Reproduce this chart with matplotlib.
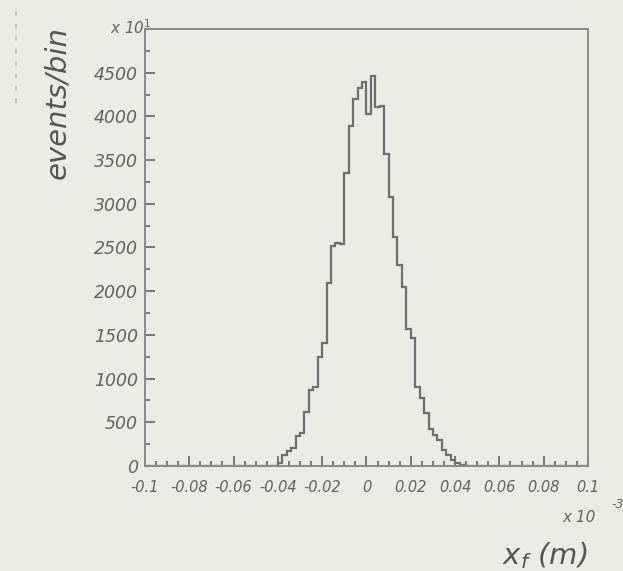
import numpy as np
import matplotlib
matplotlib.use("Agg")
import matplotlib.pyplot as plt
from matplotlib.ticker import MultipleLocator

# histogram of x_f, bins of 0.002 (x 10^-3 m)
bin_width = 0.002
first_edge = -0.040
counts = [34, 126, 170, 205, 340, 380, 620, 868, 900, 1250,
          1404, 2089, 2520, 2550, 2540, 3350, 3890, 4200, 4330, 4390,
          4030, 4460, 4110, 4121, 3570, 3074, 2618, 2300, 2047, 1572,
          1461, 905, 780, 605, 420, 354, 300, 183, 126, 68,
          31, 10]

xticks = [-0.1, -0.08, -0.06, -0.04, -0.02, 0, 0.02, 0.04, 0.06, 0.08, 0.1]
xtick_labels = ["-0.1", "-0.08", "-0.06", "-0.04", "-0.02", "0",
                "0.02", "0.04", "0.06", "0.08", "0.1"]
yticks = [0, 500, 1000, 1500, 2000, 2500, 3000, 3500, 4000, 4500]

bg = "#ebebe6"
ink = "#6e6e6e"
txt = "#626262"

edges = first_edge + bin_width * np.arange(len(counts) + 1)
# pad with empty bins so the line runs along the full range like ROOT
full_edges = np.concatenate(([-0.1], edges, [0.1]))
full_counts = np.concatenate(([0], counts, [0]))

fig = plt.figure(figsize=(6.23, 5.71), dpi=100, facecolor=bg)
ax = fig.add_axes([0.2327, 0.1839, 0.7111, 0.7653], facecolor=bg)

ax.stairs(full_counts, full_edges, color=ink, lw=1.6)

ax.set_xlim(-0.1, 0.1)
ax.set_ylim(0, 5000)
ax.set_xticks(xticks)
ax.set_xticklabels(xtick_labels)
ax.set_yticks(yticks)
ax.xaxis.set_minor_locator(MultipleLocator(0.005))
ax.yaxis.set_minor_locator(MultipleLocator(250))

ax.tick_params(which="both", direction="in", color=ink, width=1.3,
               top=False, right=False)
ax.tick_params(which="major", length=7)
ax.tick_params(which="minor", length=3.5)
ax.tick_params(axis="x", labelsize=10.5, labelcolor=txt, pad=10)
ax.tick_params(axis="y", labelsize=12.5, labelcolor=txt, pad=5)
for lab in ax.get_xticklabels() + ax.get_yticklabels():
    lab.set_fontstyle("italic")

for s in ax.spines.values():
    s.set_color("#8a8a8a")
    s.set_linewidth(1.4)

fig.text(0.0915, 0.955, "events/bin", rotation=90, ha="center", va="top",
         fontsize=21, fontstyle="italic", color="#555555")
fig.text(0.944, 0.0, "x$_{f}$ (m)", ha="right", va="bottom",
         fontsize=21, fontstyle="italic", color="#555555")
fig.text(0.244, 0.951, "x 10$^{1}$", ha="right", va="center",
         fontsize=11, fontstyle="italic", color=txt)
fig.text(0.902, 0.086, "x 10", ha="left", va="baseline",
         fontsize=11, fontstyle="italic", color=txt)
fig.text(0.982, 0.110, "-3", ha="left", va="baseline",
         fontsize=9, fontstyle="italic", color=txt)

# faint scanner streak on the left edge
fig.add_artist(plt.Line2D([0.026, 0.026], [0.82, 0.98], color="#c4c4c0",
                          lw=1.5, ls=(0, (2, 4))))

fig.savefig("out.png", dpi=100, facecolor=bg)
